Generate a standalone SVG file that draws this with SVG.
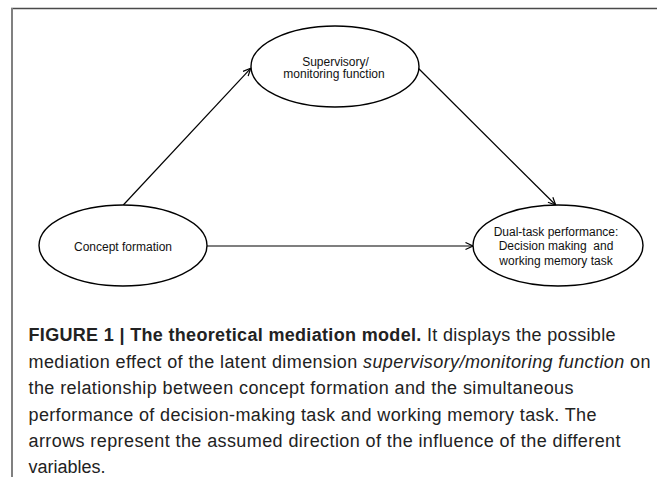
<svg xmlns="http://www.w3.org/2000/svg" width="657" height="477" viewBox="0 0 657 477">
  <defs>
    <marker id="arr" markerWidth="10" markerHeight="10" refX="8" refY="4" orient="auto" markerUnits="userSpaceOnUse">
      <path d="M0.5,0.5 L8,4 L0.5,7.5" fill="none" stroke="#000" stroke-width="1.2"/>
    </marker>
    <style>
      .node ellipse { fill: #fff; stroke: #000; stroke-width: 1.4; }
      .node text { font-family: "Liberation Sans", Arial, sans-serif; font-size: 12px; fill: #111; text-anchor: middle; }
      .conn line { stroke: #000; stroke-width: 1.2; marker-end: url(#arr); }
      .cap { font-family: "Liberation Sans", Arial, sans-serif; font-size: 18px; fill: #222; }
      .b { font-weight: bold; }
      .i { font-style: italic; }
    </style>
  </defs>
  <rect width="657" height="477" fill="#fff"/>
  <g id="frame">
    <line x1="11" y1="8.5" x2="657" y2="8.5" stroke="#4a4a4a" stroke-width="1.5"/>
    <line x1="12" y1="8" x2="12" y2="477" stroke="#808080" stroke-width="2"/>
  </g>
  <g id="connectors" class="conn">
    <line x1="123.3" y1="205" x2="250.7" y2="68.3"/>
    <line x1="417.3" y1="67.3" x2="555.7" y2="205"/>
    <line x1="207" y1="246" x2="473" y2="246"/>
  </g>
  <g id="supervisory" class="node">
    <ellipse cx="335" cy="66.5" rx="84" ry="40.5"/>
    <text x="335.5" y="65.7">Supervisory/</text>
    <text x="334" y="78.3">monitoring function</text>
  </g>
  <g id="concept" class="node">
    <ellipse cx="123" cy="245.5" rx="84" ry="40.5"/>
    <text x="123" y="250.5">Concept formation</text>
  </g>
  <g id="dualtask" class="node">
    <ellipse cx="558" cy="245.5" rx="85" ry="40.5"/>
    <text x="556" y="235.5">Dual-task performance:</text>
    <text x="556" y="250" xml:space="preserve">Decision making  and</text>
    <text x="556" y="264.5">working memory task</text>
  </g>
  <g id="caption" class="cap">
    <text x="28.5" y="341" textLength="587"><tspan class="b">FIGURE 1 | The theoretical mediation model.</tspan> It displays the possible</text>
    <text x="28.5" y="367.5" textLength="622">mediation effect of the latent dimension <tspan class="i">supervisory/monitoring function</tspan> on</text>
    <text x="28.5" y="394" textLength="545">the relationship between concept formation and the simultaneous</text>
    <text x="28.5" y="420.5" textLength="568">performance of decision-making task and working memory task. The</text>
    <text x="28.5" y="447" textLength="592">arrows represent the assumed direction of the influence of the different</text>
    <text x="28.5" y="473">variables.</text>
  </g>
</svg>
